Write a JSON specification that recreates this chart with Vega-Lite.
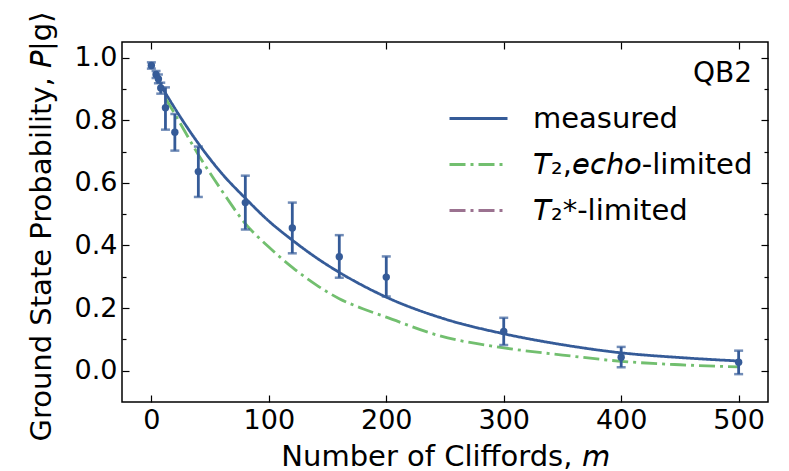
{
  "$schema": "https://vega.github.io/schema/vega-lite/v6.json",
  "width": 646,
  "height": 360,
  "autosize": {"type": "none"},
  "padding": {"left": 122, "top": 42, "right": 21, "bottom": 69},
  "background": "white",
  "config": {
    "view": {"stroke": "black", "strokeWidth": 1.5},
    "font": "DejaVu Sans",
    "axis": {"grid": false, "domain": false, "tickColor": "black", "tickWidth": 1.2, "labelColor": "black", "labelFont": "DejaVu Sans", "titleFont": "DejaVu Sans", "titleFontWeight": "normal", "titleColor": "black"},
    "legend": {
      "orient": "none", "legendX": 326, "legendY": 18, "padding": 0,
      "titleAnchor": "end", "titleFontSize": 28, "titleFontWeight": "normal", "titleColor": "black", "titleFont": "DejaVu Sans", "titlePadding": 0,
      "labelFontSize": 29, "labelFont": "DejaVu Sans", "labelColor": "black", "labelOffset": 24, "rowPadding": -11, "labelLimit": 400,
      "symbolType": "stroke", "symbolSize": 3364, "symbolStrokeWidth": 3
    }
  },
  "datasets": {
    "fits": [
      {"series": "measured", "m": 8, "p": 0.912},
      {"series": "measured", "m": 20, "p": 0.838},
      {"series": "measured", "m": 40, "p": 0.726},
      {"series": "measured", "m": 60, "p": 0.63},
      {"series": "measured", "m": 80, "p": 0.551},
      {"series": "measured", "m": 100, "p": 0.478},
      {"series": "measured", "m": 120, "p": 0.417},
      {"series": "measured", "m": 140, "p": 0.362},
      {"series": "measured", "m": 160, "p": 0.314},
      {"series": "measured", "m": 180, "p": 0.272},
      {"series": "measured", "m": 200, "p": 0.235},
      {"series": "measured", "m": 250, "p": 0.165},
      {"series": "measured", "m": 300, "p": 0.118},
      {"series": "measured", "m": 350, "p": 0.083},
      {"series": "measured", "m": 400, "p": 0.057},
      {"series": "measured", "m": 450, "p": 0.042},
      {"series": "measured", "m": 500, "p": 0.031},
      {"series": "T2echo", "m": 12, "p": 0.87},
      {"series": "T2echo", "m": 20, "p": 0.82},
      {"series": "T2echo", "m": 40, "p": 0.69},
      {"series": "T2echo", "m": 60, "p": 0.575},
      {"series": "T2echo", "m": 80, "p": 0.47},
      {"series": "T2echo", "m": 100, "p": 0.395},
      {"series": "T2echo", "m": 120, "p": 0.33},
      {"series": "T2echo", "m": 140, "p": 0.275},
      {"series": "T2echo", "m": 160, "p": 0.23},
      {"series": "T2echo", "m": 180, "p": 0.198},
      {"series": "T2echo", "m": 200, "p": 0.171},
      {"series": "T2echo", "m": 245, "p": 0.112},
      {"series": "T2echo", "m": 300, "p": 0.073},
      {"series": "T2echo", "m": 350, "p": 0.05},
      {"series": "T2echo", "m": 400, "p": 0.03},
      {"series": "T2echo", "m": 450, "p": 0.019},
      {"series": "T2echo", "m": 500, "p": 0.012}
    ],
    "meas": [
      {"m": 0, "p": 0.975, "lo": 0.965, "hi": 0.985},
      {"m": 4, "p": 0.946, "lo": 0.935, "hi": 0.957},
      {"m": 6, "p": 0.932, "lo": 0.918, "hi": 0.946},
      {"m": 8, "p": 0.903, "lo": 0.885, "hi": 0.92},
      {"m": 12, "p": 0.84, "lo": 0.77, "hi": 0.905},
      {"m": 20, "p": 0.762, "lo": 0.703, "hi": 0.82},
      {"m": 40, "p": 0.636, "lo": 0.555, "hi": 0.716},
      {"m": 80, "p": 0.537, "lo": 0.451, "hi": 0.623},
      {"m": 120, "p": 0.456, "lo": 0.375, "hi": 0.537},
      {"m": 160, "p": 0.364, "lo": 0.297, "hi": 0.433},
      {"m": 200, "p": 0.299, "lo": 0.237, "hi": 0.365},
      {"m": 300, "p": 0.125, "lo": 0.082, "hi": 0.169},
      {"m": 400, "p": 0.043, "lo": 0.011, "hi": 0.076},
      {"m": 500, "p": 0.027, "lo": -0.011, "hi": 0.064}
    ]
  },
  "resolve": {"axis": {"x": "independent", "y": "independent"}},
  "layer": [
    {
      "data": {"name": "fits"},
      "mark": {"type": "line", "strokeWidth": 2.8, "interpolate": "monotone"},
      "encoding": {
        "x": {"field": "m", "type": "quantitative", "scale": {"domain": [-25, 525], "nice": false, "zero": false},
          "axis": {"orient": "bottom", "values": [0, 100, 200, 300, 400, 500], "tickSize": -7, "labelFontSize": 27, "labelPadding": 12,
            "title": "Number of Cliffords, 𝘮", "titleFontSize": 29, "titleX": 323, "titleY": 63, "titleAlign": "center", "titleBaseline": "alphabetic"}},
        "y": {"field": "p", "type": "quantitative", "scale": {"domain": [-0.1, 1.05], "nice": false, "zero": false},
          "axis": {"orient": "left", "values": [0, 0.2, 0.4, 0.6, 0.8, 1.0], "format": ".1f", "tickSize": -7, "labelFontSize": 27, "labelPadding": 12,
            "title": "Ground State Probability, 𝘗|g⟩", "titleFontSize": 29, "titleX": -81, "titleY": 184, "titleAngle": -90, "titleAlign": "center", "titleBaseline": "middle"}},
        "color": {"field": "series", "type": "nominal",
          "scale": {"domain": ["measured", "T2echo", "T2star"], "range": ["#355b98", "#72bf6f", "#9b7290"]},
          "legend": {"title": "QB2", "labelLimit": 400, "labelExpr": "datum.value == 'T2echo' ? '𝘛₂,𝘦𝘤𝘩𝘰-limited' : datum.value == 'T2star' ? '𝘛₂*-limited' : datum.value"}},
        "strokeDash": {"field": "series", "type": "nominal",
          "scale": {"domain": ["measured", "T2echo", "T2star"], "range": [[1, 0], [16, 5, 3, 5], [16, 5, 3, 5]]},
          "legend": {"title": "QB2", "labelLimit": 400, "labelExpr": "datum.value == 'T2echo' ? '𝘛₂,𝘦𝘤𝘩𝘰-limited' : datum.value == 'T2star' ? '𝘛₂*-limited' : datum.value"}}
      }
    },
    {
      "data": {"name": "meas"},
      "mark": {"type": "rule", "strokeWidth": 2.8, "color": "#355b98"},
      "encoding": {
        "x": {"field": "m", "type": "quantitative", "axis": {"orient": "top", "values": [0, 100, 200, 300, 400, 500], "tickSize": -7, "labels": false, "title": null}},
        "y": {"field": "lo", "type": "quantitative", "axis": {"orient": "right", "values": [0, 0.2, 0.4, 0.6, 0.8, 1.0], "tickSize": -7, "labels": false, "title": null}},
        "y2": {"field": "hi"}
      }
    },
    {
      "data": {"name": "meas"},
      "mark": {"type": "tick", "orient": "horizontal", "size": 9, "thickness": 2.5, "color": "#355b98"},
      "encoding": {
        "x": {"field": "m", "type": "quantitative", "axis": null},
        "y": {"field": "lo", "type": "quantitative", "axis": {"orient": "left", "values": [0.1, 0.3, 0.5, 0.7, 0.9], "tickSize": -4, "labels": false, "title": null}}
      }
    },
    {
      "data": {"name": "meas"},
      "mark": {"type": "tick", "orient": "horizontal", "size": 9, "thickness": 2.5, "color": "#355b98"},
      "encoding": {
        "x": {"field": "m", "type": "quantitative", "axis": null},
        "y": {"field": "hi", "type": "quantitative", "axis": {"orient": "right", "values": [0.1, 0.3, 0.5, 0.7, 0.9], "tickSize": -4, "labels": false, "title": null}}
      }
    },
    {
      "data": {"name": "meas"},
      "mark": {"type": "point", "filled": true, "size": 55, "opacity": 1, "color": "#355b98"},
      "encoding": {
        "x": {"field": "m", "type": "quantitative", "axis": null},
        "y": {"field": "p", "type": "quantitative", "axis": null}
      }
    }
  ]
}
